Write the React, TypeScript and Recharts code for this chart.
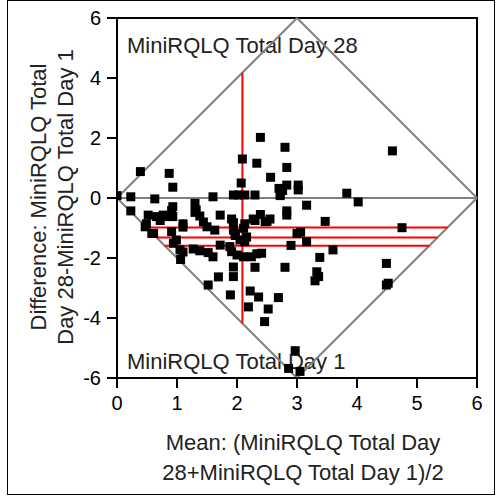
import React from "react";
import {
  ScatterChart,
  Scatter,
  XAxis,
  YAxis,
  ReferenceLine,
  ReferenceArea,
  Label,
} from "recharts";

// mean of the two scores (x) and Day 28 - Day 1 difference (y)
const meanVals = [
  2.39, 2.8, 4.59, 2.09, 2.33, 2.83, 0.39, 0.87, 2.56, 2.07, 0.93, 2.7, 2.83, 3.02, 3.02, 2.72, 2.76, 3.83,
  0.0, 0.23, 0.63, 1.6, 1.94, 2.03, 2.13, 2.3, 2.72, 4.02, 3.16, 1.3, 0.93,
  0.23, 0.52, 0.66, 0.77, 0.91, 0.93, 1.3, 1.38, 1.72, 1.91, 2.39, 2.83, 2.27, 2.55, 2.3, 2.5, 2.83, 3.47,
  2.13, 1.94, 1.44, 1.1, 0.49, 0.72, 1.1, 1.5, 1.63, 1.94, 1.97, 2.11, 0.47, 0.61, 0.91, 0.99, 0.94,
  4.75, 3.06, 3.16, 2.13, 1.72, 1.88, 2.9, 3.6, 1.05, 1.1, 1.27, 1.38, 1.52, 1.6, 1.06,
  1.91, 2.0, 2.11, 2.24, 2.33, 2.41, 3.38, 4.49, 1.94, 2.3, 2.8, 3.33, 3.36, 3.3, 4.49, 4.52,
  1.94, 1.69, 1.52, 1.89, 2.22, 2.36, 2.69, 2.19, 2.52, 2.46, 2.97, 2.86, 3.05,
  2.16, 1.97, 2.05, 0.58, 0.8, 3.0, 2.47, 1.32,
];
const diffVals = [
  2.02, 1.69, 1.57, 1.3, 1.16, 1.02, 0.88, 0.82, 0.69, 0.5, 0.36, 0.32, 0.43, 0.43, 0.27, 0.14, 0.25, 0.16,
  0.08, 0.04, -0.03, 0.04, 0.1, 0.1, 0.1, 0.1, 0.08, -0.13, -0.24, -0.18, -0.29,
  -0.43, -0.57, -0.62, -0.57, -0.42, -0.62, -0.48, -0.6, -0.57, -0.7, -0.55, -0.43, -0.7, -0.7, -0.75, -0.78, -0.57, -0.78,
  -0.86, -0.82, -0.8, -0.86, -0.86, -0.75, -0.97, -0.96, -1.07, -1.07, -1.18, -1.01, -0.96, -1.18, -1.12, -1.4, -1.51,
  -0.99, -1.14, -1.46, -1.46, -1.57, -1.62, -1.58, -1.73, -1.73, -1.8, -1.7, -1.76, -1.82, -1.96, -2.05,
  -1.79, -1.9, -1.96, -1.96, -1.86, -1.84, -1.98, -2.18, -2.3, -2.31, -2.31, -2.46, -2.62, -2.76, -2.9, -2.84,
  -2.62, -2.63, -2.9, -3.23, -3.1, -3.3, -3.32, -3.63, -3.7, -4.12, -5.09, -5.68, -5.78,
  -1.3, -1.25, -1.4, -1.18, -0.62, -1.18, -0.79, -0.4,
];

const xTicks = [0, 1, 2, 3, 4, 5, 6];
const yTicks = [-6, -4, -2, 0, 2, 4, 6];

const meanDiff = -1.32;
const diffUpper = -0.98;
const diffLower = -1.59;
const meanOfMeans = 2.09;

const data = meanVals.map((m, i) => ({ mean: m, diff: diffVals[i] }));

const FONT = "Arial, 'Liberation Sans', sans-serif";

// horizontal line clipped to the diamond
const hSeg = (y: number) => [
  { x: Math.abs(y) / 2, y },
  { x: 6 - Math.abs(y) / 2, y },
];

const Square = (p: any) => (
  <rect x={p.cx - 4.5} y={p.cy - 4.5} width={9} height={9} fill="#000" />
);

export default function App() {
  return (
    <div style={{ position: "absolute", left: 0, top: 0, width: 498, height: 497, background: "#fff" }}>
      <div
        style={{
          position: "absolute",
          left: 7,
          top: 0,
          width: 488,
          height: 495,
          border: "1px solid #000",
          boxSizing: "border-box",
        }}
      />
      <div style={{ position: "absolute", left: 0, top: 0 }}>
        <ScatterChart width={498} height={497} margin={{ top: 18, right: 21, bottom: 89, left: 67 }}>
          <XAxis
            type="number"
            dataKey="mean"
            domain={[0, 6]}
            ticks={xTicks}
            allowDataOverflow
            height={30}
            tickSize={10}
            tickMargin={8}
            axisLine={{ stroke: "#000", strokeWidth: 2 }}
            tickLine={{ stroke: "#000", strokeWidth: 2 }}
            tick={{ fill: "#000", fontSize: 20, fontFamily: FONT }}
          >
            <Label
              content={() => (
                <g fontFamily={FONT} fontSize={22} fill="#222">
                  <text x={303} y={450} textAnchor="middle">Mean: (MiniRQLQ Total Day</text>
                  <text x={303} y={480} textAnchor="middle">28+MiniRQLQ Total Day 1)/2</text>
                </g>
              )}
            />
          </XAxis>
          <YAxis
            type="number"
            dataKey="diff"
            domain={[-6, 6]}
            ticks={yTicks}
            allowDataOverflow
            width={50}
            tickSize={10}
            tickMargin={6}
            axisLine={{ stroke: "#000", strokeWidth: 2 }}
            tickLine={{ stroke: "#000", strokeWidth: 2 }}
            tick={{ fill: "#000", fontSize: 20, fontFamily: FONT }}
          >
            <Label
              content={() => (
                <g fontFamily={FONT} fontSize={22} fill="#222">
                  <text x={38} y={197} textAnchor="middle" dominantBaseline="central" transform="rotate(-90 38 197)">
                    Difference: MiniRQLQ Total
                  </text>
                  <text x={65} y={197} textAnchor="middle" dominantBaseline="central" transform="rotate(-90 65 197)">
                    Day 28-MiniRQLQ Total Day 1
                  </text>
                </g>
              )}
            />
          </YAxis>

          <ReferenceArea
            x1={0}
            x2={6}
            y1={-6}
            y2={6}
            fill="none"
            stroke="#000"
            strokeWidth={2}
            label={(p: any) => {
              const vb = p.viewBox;
              return (
                <g fontFamily={FONT} fontSize={22} fill="#222">
                  <text x={vb.x + 10} y={vb.y + 35}>MiniRQLQ Total Day 28</text>
                  <text x={vb.x + 10} y={vb.y + vb.height - 9}>MiniRQLQ Total Day 1</text>
                </g>
              );
            }}
          />

          <ReferenceLine segment={[{ x: 0, y: 0 }, { x: 3, y: 6 }]} stroke="#808080" strokeWidth={2} />
          <ReferenceLine segment={[{ x: 3, y: 6 }, { x: 6, y: 0 }]} stroke="#808080" strokeWidth={2} />
          <ReferenceLine segment={[{ x: 6, y: 0 }, { x: 3, y: -6 }]} stroke="#808080" strokeWidth={2} />
          <ReferenceLine segment={[{ x: 3, y: -6 }, { x: 0, y: 0 }]} stroke="#808080" strokeWidth={2} />
          <ReferenceLine segment={[{ x: 0, y: 0 }, { x: 6, y: 0 }]} stroke="#808080" strokeWidth={2} />

          <ReferenceLine segment={hSeg(diffUpper)} stroke="#ff0000" strokeWidth={2} />
          <ReferenceLine segment={hSeg(meanDiff)} stroke="#ff0000" strokeWidth={2} />
          <ReferenceLine segment={hSeg(diffLower)} stroke="#ff0000" strokeWidth={2} />
          <ReferenceLine
            segment={[
              { x: meanOfMeans, y: -2 * meanOfMeans },
              { x: meanOfMeans, y: 2 * meanOfMeans },
            ]}
            stroke="#ff0000"
            strokeWidth={2}
          />

          <Scatter data={data} shape={Square} isAnimationActive={false} />
        </ScatterChart>
      </div>
    </div>
  );
}
